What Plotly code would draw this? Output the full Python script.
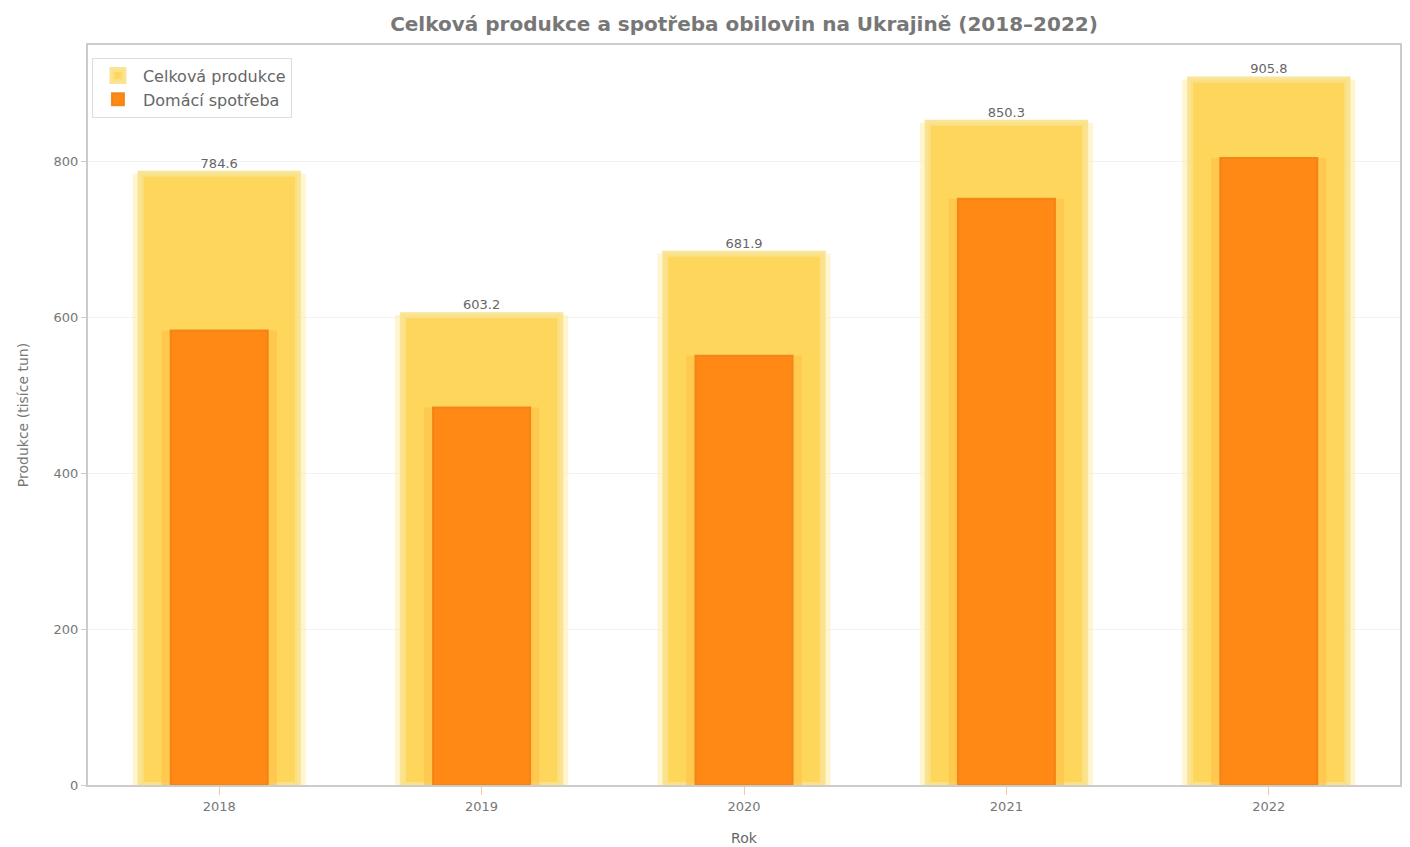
import plotly.graph_objects as go

years = ["2018", "2019", "2020", "2021", "2022"]
production = [784.6, 603.2, 681.9, 850.3, 905.8]
consumption = [583.4, 484.7, 551.2, 752.6, 804.9]

title_text = "Celková produkce a spotřeba obilovin na Ukrajině (2018–2022)"
x_title = "Rok"
y_title = "Produkce (tisíce tun)"
name_prod = "Celková produkce"
name_cons = "Domácí spotřeba"

fig = go.Figure()

# soft glow behind total production bars
fig.add_trace(go.Bar(
    x=years, y=production, width=0.66,
    marker=dict(color="rgba(255,236,170,0.55)", line=dict(width=0)),
    showlegend=False, hoverinfo="skip",
))
fig.add_trace(go.Bar(
    x=years, y=production, width=0.6, name=name_prod,
    marker=dict(color="rgb(255,214,92)",
                line=dict(color="rgba(250,226,140,0.9)", width=6)),
    text=[f"{v:.1f}" for v in production], textposition="outside",
    textfont=dict(size=13, color="#666666"),
    cliponaxis=False,
))
# glow around consumption bars
fig.add_trace(go.Bar(
    x=years, y=consumption, width=0.44,
    marker=dict(color="rgba(255,190,70,0.6)", line=dict(width=0)),
    showlegend=False, hoverinfo="skip",
))
fig.add_trace(go.Bar(
    x=years, y=consumption, width=0.37, name=name_cons,
    marker=dict(color="rgb(255,137,20)",
                line=dict(color="rgba(240,130,20,0.9)", width=2)),
))

fig.update_layout(
    width=1410, height=847,
    barmode="overlay",
    paper_bgcolor="white", plot_bgcolor="white",
    margin=dict(l=88, r=10, t=45, b=62, autoexpand=False),
    font=dict(family="DejaVu Sans, sans-serif", color="#666666", size=13),
    title=dict(text="<b>" + title_text + "</b>", xref="paper", x=0.5,
               xanchor="center", yref="container", y=0.972, yanchor="middle",
               font=dict(size=20, color="#777777")),
    legend=dict(x=0.003, y=0.983, xanchor="left", yanchor="top",
                bgcolor="rgba(255,255,255,0.9)", bordercolor="#dddddd",
                borderwidth=1, itemwidth=40,
                font=dict(size=16, color="#666666")),
    bargap=0.3,
)
fig.update_xaxes(
    automargin=False,
    title=dict(text=x_title, font=dict(size=14, color="#666666"), standoff=21),
    showline=True, linecolor="#cccccc", linewidth=2, mirror=True,
    ticks="outside", ticklen=8, tickcolor="#f3c9a0",
    showgrid=False, tickfont=dict(size=13, color="#777777"),
)
fig.update_yaxes(
    automargin=False,
    title=dict(text=y_title, font=dict(size=14, color="#777777"), standoff=22),
    range=[0, 950], tickvals=[0, 200, 400, 600, 800],
    showline=True, linecolor="#cccccc", linewidth=2, mirror=True,
    ticks="outside", ticklen=5, tickcolor="#cccccc",
    showgrid=True, gridcolor="#f2f2f2", zeroline=False,
    tickfont=dict(size=13, color="#777777"),
)

fig.write_html("out.html")
